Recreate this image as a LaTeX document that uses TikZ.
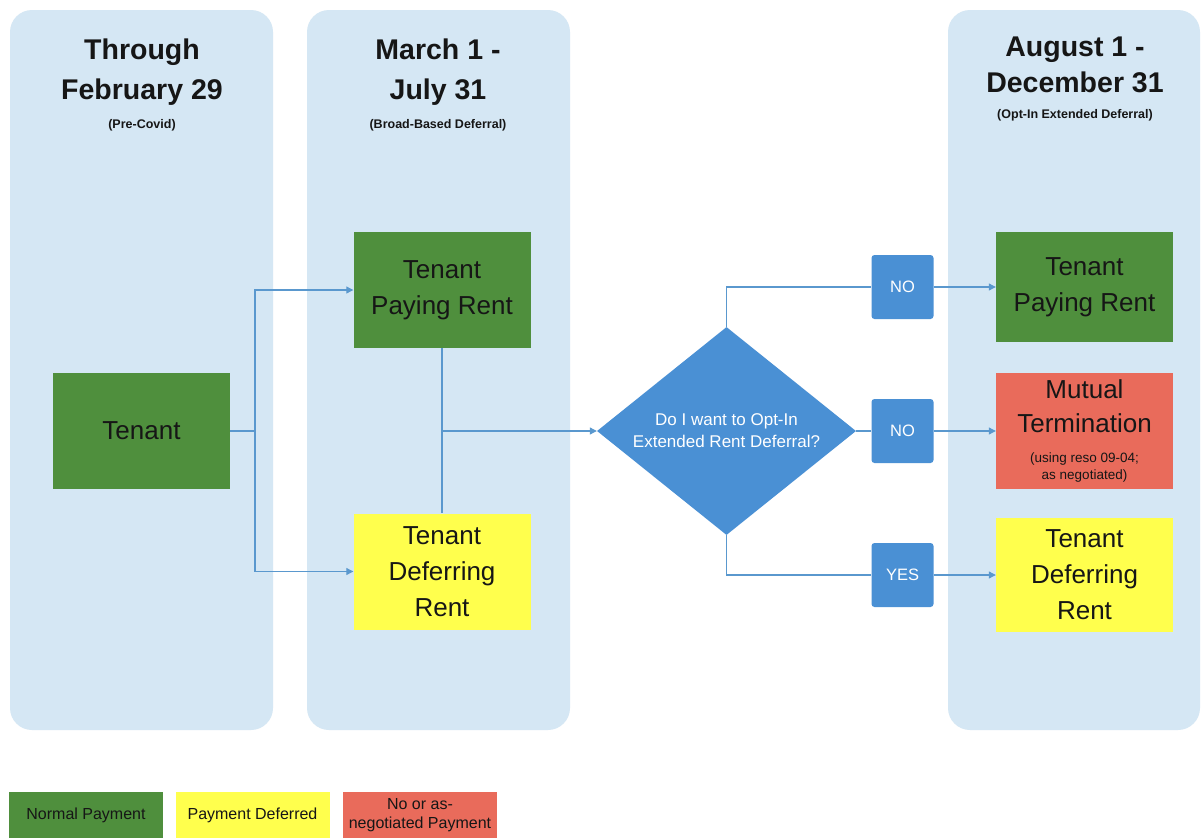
\documentclass[tikz,border=0pt]{standalone}
\usepackage{fontspec}
\setmainfont{Liberation Sans}
\usetikzlibrary{arrows.meta,shapes.geometric}
\definecolor{colbg}{HTML}{D5E7F4}
\definecolor{gfill}{HTML}{4F8F3D}
\definecolor{yfill}{HTML}{FFFF4D}
\definecolor{rfill}{HTML}{E96B5B}
\definecolor{bfill}{HTML}{4A90D4}
\definecolor{lnc}{HTML}{5A98CE}
\definecolor{txt}{HTML}{161616}
\tikzset{
  column/.style={fill=colbg, draw=none, rounded corners=22pt},
  hdr/.style={font=\fontsize{28.5}{40}\selectfont\bfseries, text=txt, align=center},
  sub/.style={font=\fontsize{12.5}{14}\selectfont\bfseries, text=txt},
  box/.style={draw=none, minimum width=177pt, minimum height=116pt, align=center, text=txt, font=\fontsize{26}{36}\selectfont, inner sep=2pt},
  gbox/.style={box, fill=gfill},
  ybox/.style={box, fill=yfill},
  rbox/.style={box, fill=rfill},
  ans/.style={fill=bfill, draw=none, rounded corners=3pt, minimum width=62pt, minimum height=64pt, text=white, font=\fontsize{16.5}{18}\selectfont},
  conn/.style={draw=lnc, line width=1.1pt},
  arr/.style={conn, -{Triangle[length=7pt,width=7pt]}},
  leg/.style={draw=none, minimum width=154pt, minimum height=46pt, align=center, text=txt, font=\fontsize{16}{19}\selectfont, inner sep=1pt}
}
\begin{document}
\begin{tikzpicture}[x=1pt,y=-1pt]
\useasboundingbox[fill=white] (0,0) rectangle (1202,838);
% columns
\fill[column] (10,10) rectangle (273,730);
\fill[column] (307,10) rectangle (570,730);
\fill[column] (948,10) rectangle (1200,730);
% headers
\node[hdr] (h1) at (142,72) {Through\\February 29};
\node[sub] (s1) at (142,125) {(Pre-Covid)};
\node[hdr] (h2) at (438,72) {March 1 -\\July 31};
\node[sub] (s2) at (438,125) {(Broad-Based Deferral)};
\node[hdr, font=\fontsize{28.5}{36}\selectfont\bfseries] (h3) at (1075,65) {August 1 -\\December 31};
\node[sub] (s3) at (1075,115) {(Opt-In Extended Deferral)};
% nodes
\node[gbox] (tenant) at (141.5,431) {Tenant};
\node[gbox] (pay1) at (442,290) {Tenant\\Paying Rent};
\node[ybox] (def1) at (442,571.5) {Tenant\\Deferring\\Rent};
\node[diamond, fill=bfill, minimum width=259pt, minimum height=208pt, aspect=1.245, inner sep=0pt, text=white, align=center, font=\fontsize{17}{22}\selectfont] (dec) at (726.5,431) {Do I want to Opt-In\\Extended Rent Deferral?};
\node[ans] (no1) at (902.5,287) {NO};
\node[ans] (no2) at (902.5,431) {NO};
\node[ans] (yes) at (902.5,575) {YES};
\node[gbox, minimum height=110pt] (pay2) at (1084.5,287) {Tenant\\Paying Rent};
\node[rbox, font=\fontsize{26}{34}\selectfont] (mut) at (1084.5,431) {Mutual\\Termination\\[-4pt]{\fontsize{13.5}{15}\selectfont (using reso 09-04;}\\[-17pt]{\fontsize{13.5}{15}\selectfont as negotiated)}};
\node[ybox, minimum height=114pt] (def2) at (1084.5,575) {Tenant\\Deferring\\Rent};
% connectors
\coordinate (j1) at (255,431);
\draw[conn] (tenant.east) -- (j1);
\draw[arr] (j1) |- (pay1.west);
\draw[arr] (j1) |- (def1.west);
\draw[conn] (pay1.south) -- (def1.north);
\coordinate (j2) at (442,431);
\draw[arr] (j2) -- (dec.west);
\draw[conn] (dec.north) |- (no1.west);
\draw[conn] (dec.east) -- (no2.west);
\draw[conn] (dec.south) |- (yes.west);
\draw[arr] (no1.east) -- (pay2.west);
\draw[arr] (no2.east) -- (mut.west);
\draw[arr] (yes.east) -- (def2.west);
% legend
\node[leg, fill=gfill] (l1) at (86,815) {Normal Payment};
\node[leg, fill=yfill] (l2) at (252.5,815) {Payment Deferred};
\node[leg, fill=rfill] (l3) at (420,815) {No or as-\\negotiated Payment};
\end{tikzpicture}
\end{document}
